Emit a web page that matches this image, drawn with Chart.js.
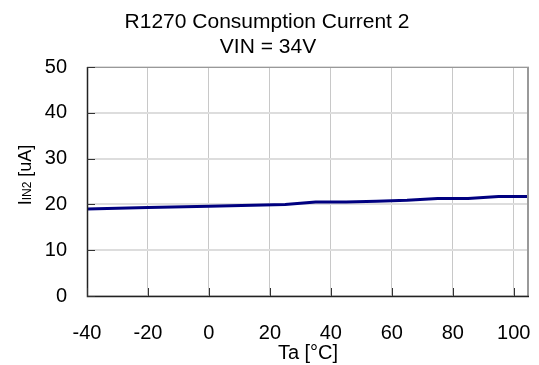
<!DOCTYPE html>
<html>
<head>
<meta charset="utf-8">
<script src="https://cdn.jsdelivr.net/npm/chart.js@4.4.0/dist/chart.umd.min.js"></script>
<style>
  html, body { margin: 0; padding: 0; background: #fff; }
  #wrap { width: 539px; height: 365px; }
</style>
</head>
<body>
<div id="wrap"><canvas id="chart" width="539" height="365"></canvas></div>
<script>
// Data
var temps = [-40, -20, 0, 25, 35, 45, 55, 65, 75, 85, 95, 105];
var current = [19.0, 19.3, 19.6, 20.0, 20.5, 20.5, 20.7, 20.9, 21.3, 21.3, 21.7, 21.7];
var xTicks = [-40, -20, 0, 20, 40, 60, 80, 100];
var yTicks = [0, 10, 20, 30, 40, 50];
var titleLines = ['R1270 Consumption Current 2', 'VIN = 34V'];

var FONT = '"Liberation Sans", Arial, sans-serif';

// Titles, y axis label with subscript, and plot frame
var decorPlugin = {
    id: 'decor',
    afterDraw: function (chart) {
        var ctx = chart.ctx;
        var area = chart.chartArea;
        ctx.save();

        // frame: top/right gray, left/bottom dark
        ctx.strokeStyle = '#999999';
        ctx.lineWidth = 1;
        ctx.beginPath();
        ctx.moveTo(area.left, area.top + 0.5);
        ctx.lineTo(area.right, area.top + 0.5);
        ctx.stroke();
        ctx.lineWidth = 2;
        ctx.beginPath();
        ctx.moveTo(area.right - 1, area.top);
        ctx.lineTo(area.right - 1, area.bottom);
        ctx.stroke();
        ctx.strokeStyle = '#222222';
        ctx.lineWidth = 1.5;
        ctx.beginPath();
        ctx.moveTo(area.left + 0.5, area.top);
        ctx.lineTo(area.left + 0.5, area.bottom + 0.5);
        ctx.lineTo(area.right, area.bottom + 0.5);
        ctx.stroke();

        // short inward tick marks
        var xs = chart.scales.x, ys = chart.scales.y;
        ctx.strokeStyle = '#333333';
        ctx.lineWidth = 1;
        ctx.beginPath();
        yTicks.forEach(function (v) {
            var py = Math.round(ys.getPixelForValue(v)) + 0.5;
            ctx.moveTo(area.left, py);
            ctx.lineTo(area.left + 8, py);
        });
        xTicks.forEach(function (v) {
            var px = Math.round(xs.getPixelForValue(v)) + 0.5;
            ctx.moveTo(px, area.bottom);
            ctx.lineTo(px, area.bottom - 8);
        });
        ctx.stroke();

        // titles
        ctx.fillStyle = '#000';
        ctx.textAlign = 'center';
        ctx.textBaseline = 'middle';
        ctx.font = '21px ' + FONT;
        ctx.fillText(titleLines[0], 267, 22);
        ctx.fillText(titleLines[1], 268, 47);

        // y axis title: I + subscript IN2 + [uA]
        ctx.translate(25, 175);
        ctx.rotate(-Math.PI / 2);
        ctx.textAlign = 'left';
        ctx.textBaseline = 'alphabetic';
        var bigFont = '18px ' + FONT, smallFont = '12px ' + FONT;
        ctx.font = bigFont;
        var w1 = ctx.measureText('I').width;
        var w3 = ctx.measureText(' [uA]').width;
        ctx.font = smallFont;
        var w2 = ctx.measureText('IN2').width;
        var x0 = -(w1 + w2 + w3) / 2;
        ctx.font = bigFont;
        ctx.fillText('I', x0, 6);
        ctx.font = smallFont;
        ctx.fillText('IN2', x0 + w1, 6);
        ctx.font = bigFont;
        ctx.fillText(' [uA]', x0 + w1 + w2, 6);

        ctx.restore();
    }
};

var points = temps.map(function (t, i) { return { x: t, y: current[i] }; });

new Chart(document.getElementById('chart'), {
    type: 'line',
    data: {
        datasets: [{
            data: points,
            borderColor: '#000080',
            borderWidth: 3,
            pointRadius: 0,
            tension: 0,
            fill: false
        }]
    },
    options: {
        responsive: false,
        animation: false,
        devicePixelRatio: 1,
        layout: { padding: { top: 67, right: 10, left: 0, bottom: 0 } },
        plugins: {
            legend: { display: false },
            title: { display: false },
            tooltip: { enabled: false }
        },
        scales: {
            x: {
                type: 'linear',
                min: -40,
                max: 105,
                afterBuildTicks: function (scale) {
                    scale.ticks = xTicks.map(function (v) { return { value: v }; });
                },
                afterFit: function (scale) {
                    scale.height = 69;
                    scale.paddingLeft = 0;
                    scale.paddingRight = 0;
                },
                border: { display: false },
                grid: { color: '#c8c8c8', lineWidth: 1, drawTicks: false },
                ticks: {
                    color: '#000',
                    font: { family: FONT, size: 20 },
                    padding: 25
                },
                title: {
                    display: true,
                    text: 'Ta [°C]',
                    color: '#000',
                    font: { family: FONT, size: 20 },
                    padding: { top: -12, bottom: 0 }
                }
            },
            y: {
                type: 'linear',
                min: 0,
                max: 50,
                afterBuildTicks: function (scale) {
                    scale.ticks = yTicks.map(function (v) { return { value: v }; });
                },
                afterFit: function (scale) {
                    scale.width = 87;
                    scale.paddingTop = 0;
                    scale.paddingBottom = 0;
                },
                border: { display: false },
                grid: { color: '#dddddd', lineWidth: 2, drawTicks: false },
                ticks: {
                    color: '#000',
                    font: { family: FONT, size: 20 },
                    padding: 20
                }
            }
        }
    },
    plugins: [decorPlugin]
});
</script>
</body>
</html>
